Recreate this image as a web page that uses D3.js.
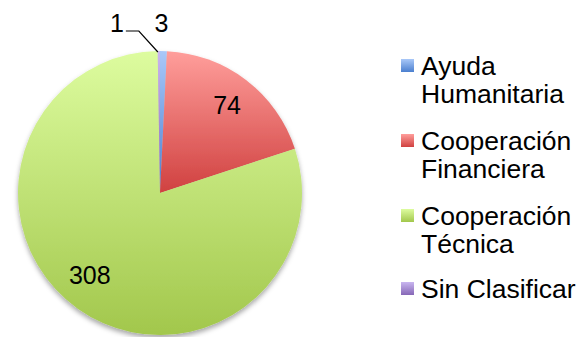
<!DOCTYPE html>
<html>
<head>
<meta charset="utf-8">
<script src="https://cdn.jsdelivr.net/npm/d3@7/dist/d3.min.js"></script>
<style>
  html, body { margin: 0; padding: 0; background: #fff; }
  svg { display: block; font-family: "Liberation Sans", Arial, sans-serif; }
</style>
</head>
<body>
<svg id="chart" width="577" height="337"></svg>
<script>
// Projects by type of cooperation
const categories = ["Ayuda Humanitaria", "Cooperación Financiera", "Cooperación Técnica", "Sin Clasificar"];
const legendLines = [["Ayuda", "Humanitaria"], ["Cooperación", "Financiera"], ["Cooperación", "Técnica"], ["Sin Clasificar"]];
const values = [3, 74, 308, 1];
// gradient stops per slice: light top, dark bottom
const topColors = ["#a9c8f8", "#ff9e9b", "#ddfc9f", "#c9b6f0"];
const bottomColors = ["#4b7fcf", "#d04140", "#a2c74c", "#8667b6"];

const svg = d3.select("#chart");
const defs = svg.append("defs");

categories.forEach((c, i) => {
  const g = defs.append("linearGradient")
    .attr("id", "grad" + i)
    .attr("x1", 0).attr("y1", 0).attr("x2", 0).attr("y2", 1);
  g.append("stop").attr("offset", "0%").attr("stop-color", topColors[i]);
  g.append("stop").attr("offset", "100%").attr("stop-color", bottomColors[i]);
});

const shadow = defs.append("filter").attr("id", "shadow")
  .attr("x", "-10%").attr("y", "-10%").attr("width", "120%").attr("height", "125%");
shadow.append("feDropShadow")
  .attr("dx", 0).attr("dy", 3).attr("stdDeviation", 2.5)
  .attr("flood-color", "#000").attr("flood-opacity", 0.35);

const cx = 160, cy = 193, R = 142;

const pie = d3.pie().sort(null).value(d => d);
const arcs = pie(values);
const arc = d3.arc().innerRadius(0).outerRadius(R);

const pieG = svg.append("g").attr("transform", `translate(${cx},${cy})`);
const slicesG = pieG.append("g").attr("filter", "url(#shadow)");

slicesG.selectAll("path")
  .data(arcs)
  .join("path")
  .attr("d", arc)
  .attr("fill", (d, i) => `url(#grad${i})`);

// Value labels
const labelSize = 25, legendSize = 26.5;
const labelArc = d3.arc().innerRadius(R * 0.78).outerRadius(R * 0.78);
const outerArc = d3.arc().innerRadius(R * 1.0).outerRadius(R * 1.0);
// placement nudges for the label of each slice (px)
const labelNudge = [[-2, -28], [0, 0], [-6, -8], [-42, -28]];

arcs.forEach((a, i) => {
  const small = a.data / d3.sum(values) < 0.02;
  let [x, y] = small ? outerArc.centroid(a) : labelArc.centroid(a);
  x += labelNudge[i][0];
  y += labelNudge[i][1];
  pieG.append("text")
    .attr("x", x).attr("y", y)
    .attr("text-anchor", "middle")
    .attr("dominant-baseline", "central")
    .attr("font-size", labelSize)
    .attr("fill", "#000")
    .text(a.data);
  if (i === 3) {
    // leader line from the label to the thin slice
    const [ex, ey] = outerArc.centroid(a);
    pieG.append("polyline")
      .attr("points", [[x + 9, y + 8], [x + 22, y + 8], [ex - 1, ey + 1]].map(p => p.join(",")).join(" "))
      .attr("fill", "none")
      .attr("stroke", "#000")
      .attr("stroke-width", 1.2);
  }
});

// Legend
const legend = svg.append("g");
const legendX = 401, textX = 421, lineH = 28;
const entryY = [75, 150, 225, 298];
legendLines.forEach((lines, i) => {
  legend.append("rect")
    .attr("x", legendX).attr("y", entryY[i] - 16)
    .attr("width", 13).attr("height", 13)
    .attr("fill", `url(#grad${i})`);
  const t = legend.append("text")
    .attr("font-size", legendSize)
    .attr("fill", "#000");
  lines.forEach((ln, j) => {
    t.append("tspan").attr("x", textX).attr("y", entryY[i] + j * lineH).text(ln);
  });
});
</script>
</body>
</html>
